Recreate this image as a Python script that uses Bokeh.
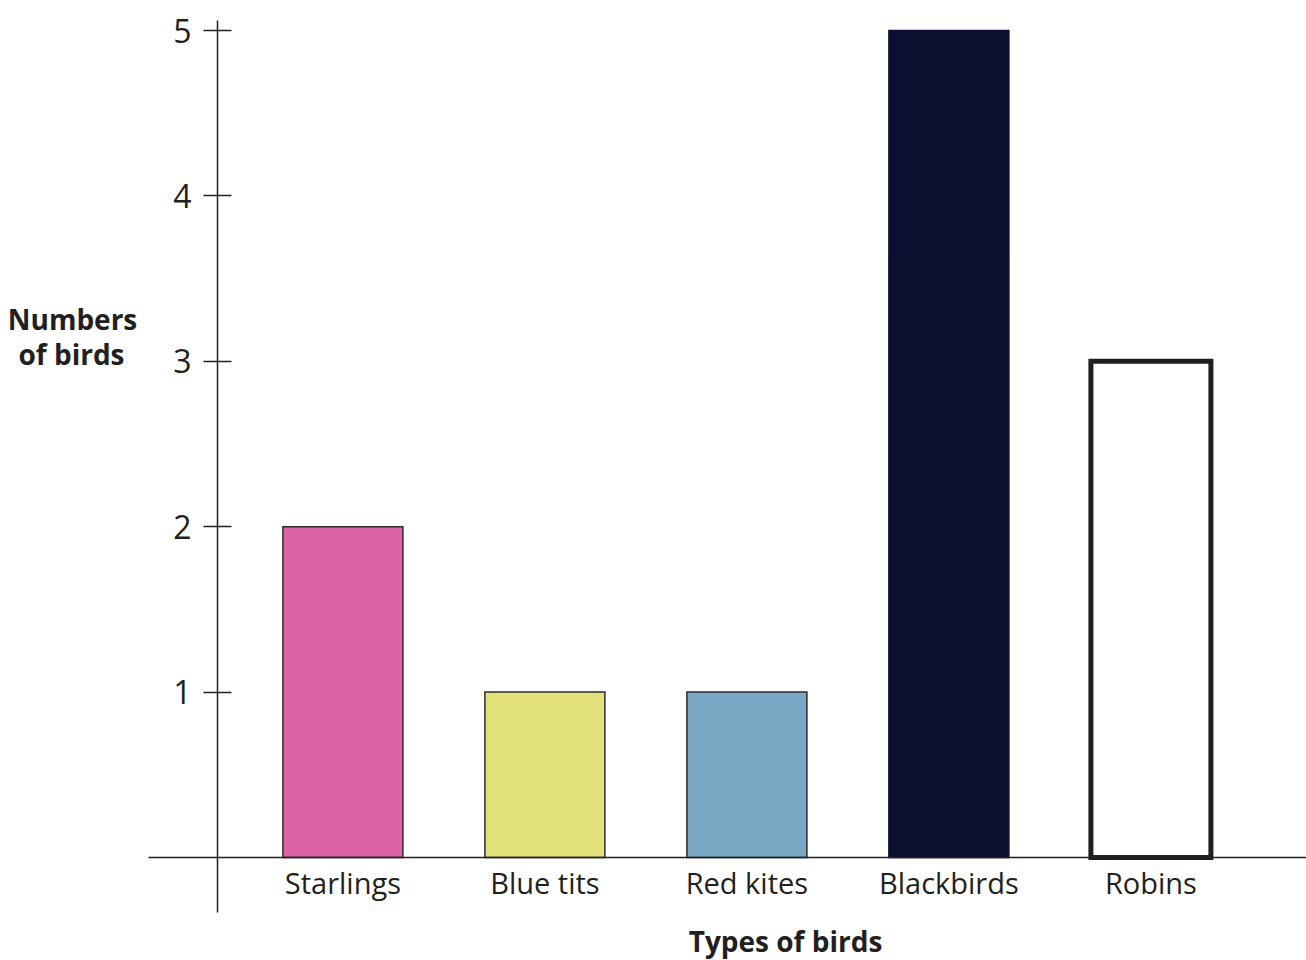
from bokeh.plotting import figure
from bokeh.models import ColumnDataSource, Range1d, FixedTicker, Label
from bokeh.embed import file_html
from bokeh.resources import INLINE

birds = ["Starlings", "Blue tits", "Red kites", "Blackbirds", "Robins"]
counts = [2, 1, 1, 5, 3]
y_ticks = [1, 2, 3, 4, 5]

bar_fill = ["#dc64a6", "#e3e17a", "#7aa8c4", "#0c0f30", "#ffffff"]
bar_line = ["#2e2a30", "#2e2a30", "#2e2a30", "#0c0f30", "#231f20"]
bar_lw = [1.5, 1.5, 1.5, 1.5, 5]

FONT = "Open Sans"
TXT = "#231f20"

W, H = 1306, 960
PX_X = 202.0     # pixels per category step
PX_Y = 165.4     # pixels per unit on y
X0_PX = 342.4    # pixel of first category centre
Y0_PX = 857      # pixel (from top) of y = 0

xs = list(range(len(birds)))
src = ColumnDataSource(dict(x=xs, top=counts, fill=bar_fill, line=bar_line, lw=bar_lw))

p = figure(width=W, height=H, output_backend="svg", toolbar_location=None,
           x_range=Range1d(-X0_PX / PX_X, (W - X0_PX) / PX_X),
           y_range=Range1d(-(H - Y0_PX) / PX_Y, Y0_PX / PX_Y),
           min_border_left=0, min_border_right=0, min_border_top=0, min_border_bottom=0)
p.outline_line_color = None
p.xgrid.visible = False
p.ygrid.visible = False
p.background_fill_color = "white"

p.vbar(x="x", top="top", bottom=0, width=120 / PX_X, source=src,
       fill_color="fill", line_color="line", line_width="lw", line_join="miter")

ya = p.yaxis[0]
ya.fixed_location = (217 - X0_PX) / PX_X
ya.bounds = (-(912 - Y0_PX) / PX_Y, (Y0_PX - 20) / PX_Y)
ya.ticker = FixedTicker(ticks=y_ticks)
ya.minor_tick_line_color = None
ya.major_tick_in = 14
ya.major_tick_out = 14
ya.major_tick_line_color = TXT
ya.major_tick_line_width = 1.5
ya.axis_line_color = TXT
ya.axis_line_width = 1.5
ya.major_label_text_font = FONT
ya.major_label_text_font_size = "32px"
ya.major_label_text_color = TXT
ya.major_label_standoff = 12

xa = p.xaxis[0]
xa.fixed_location = 0
xa.bounds = (-(X0_PX - 148) / PX_X, (W - X0_PX) / PX_X)
xa.ticker = FixedTicker(ticks=xs)
xa.major_label_overrides = {i: b for i, b in enumerate(birds)}
xa.minor_tick_line_color = None
xa.major_tick_line_color = None
xa.major_tick_in = 0
xa.major_tick_out = 0
xa.axis_line_color = TXT
xa.axis_line_width = 1.5
xa.major_label_text_font = FONT
xa.major_label_text_font_size = "29px"
xa.major_label_text_color = TXT
xa.major_label_standoff = 5

for txt, cx, base in [("Numbers", 72, 318), ("of birds", 71, 353)]:
    p.add_layout(Label(x=cx, y=H - base, x_units="screen", y_units="screen", text=txt,
                       text_font=FONT, text_font_size="28px", text_font_style="bold",
                       text_color=TXT, text_align="center", text_baseline="alphabetic"))

p.add_layout(Label(x=785, y=H - 940, x_units="screen", y_units="screen", text="Types of birds",
                   text_font=FONT, text_font_size="28px", text_font_style="bold",
                   text_color=TXT, text_align="center", text_baseline="alphabetic"))

open("out.html", "w").write(file_html(p, INLINE))
